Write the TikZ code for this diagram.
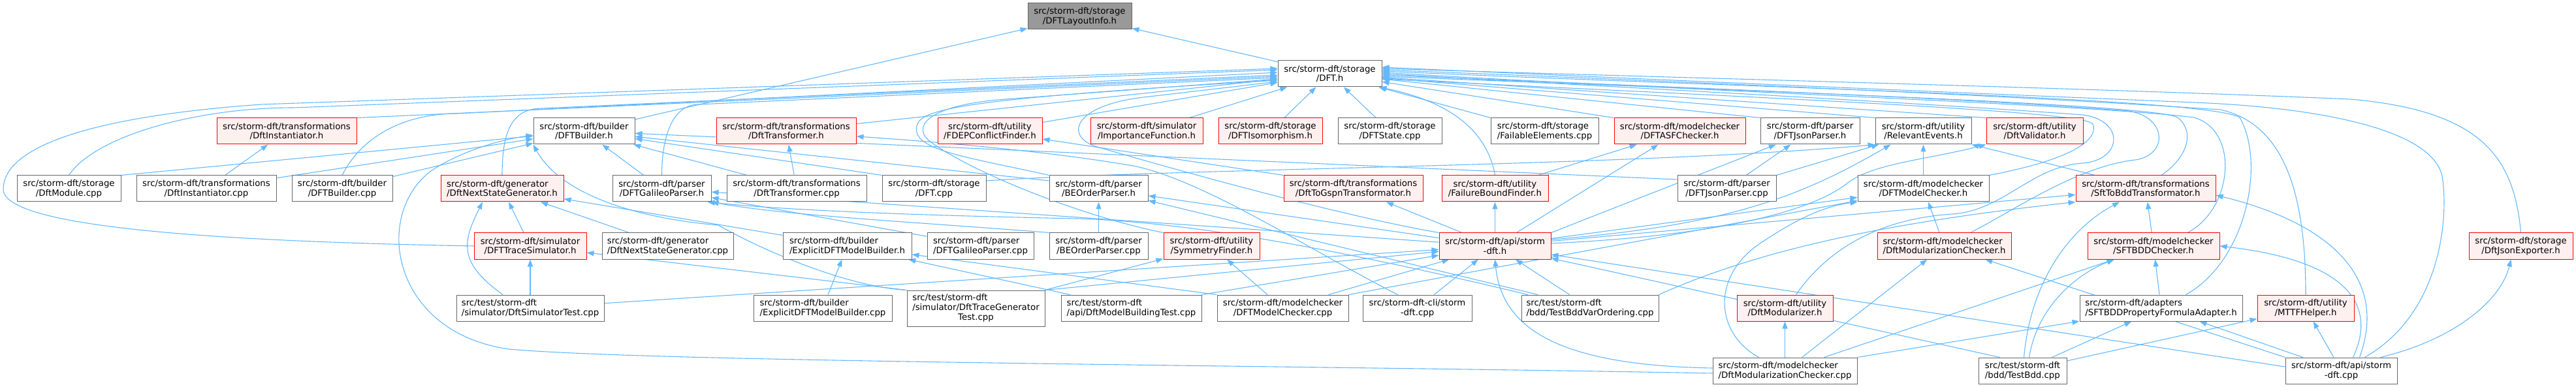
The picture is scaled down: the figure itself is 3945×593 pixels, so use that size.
\documentclass[tikz,border=0pt]{standalone}
\usepackage{fontspec}
\setmainfont{DejaVu Sans}
\usetikzlibrary{arrows.meta,backgrounds}

\definecolor{edgeblue}{HTML}{63B8FF}
\definecolor{boxgray}{HTML}{666666}
\definecolor{hotfill}{HTML}{FFF0F0}
\definecolor{rootfill}{HTML}{999999}

\begin{document}
\begin{tikzpicture}[x=1pt, y=-1pt,
    file/.style={draw=boxgray, fill=white, line width=1pt, rectangle, minimum height=40pt,
      inner sep=0pt, align=center, font=\fontsize{13.3}{14.7}\selectfont},
    hot/.style={file, draw=red, fill=hotfill},
    root/.style={file, fill=rootfill},
    inc/.style={draw=edgeblue, line width=1.1pt, -{Triangle[length=11pt,width=8pt]}}]
    \useasboundingbox (0,0) rectangle (3945,593);

    % top
    \node[root, minimum width=159pt] (layout) at (1653.5,25) {src/storm-dft/storage\\/DFTLayoutInfo.h};
    \node[file, minimum width=159pt] (dft) at (2036.5,113) {src/storm-dft/storage\\/DFT.h};

    % row 2
    \node[hot, minimum width=214pt] (insth) at (439,201) {src/storm-dft/transformations\\/DftInstantiator.h};
    \node[file, minimum width=155pt] (builderh) at (894.5,201) {src/storm-dft/builder\\/DFTBuilder.h};
    \node[hot, minimum width=214pt] (transh) at (1204,201) {src/storm-dft/transformations\\/DftTransformer.h};
    \node[hot, minimum width=160pt] (fdeph) at (1516,201) {src/storm-dft/utility\\/FDEPConflictFinder.h};
    \node[hot, minimum width=172pt] (importh) at (1756,201) {src/storm-dft/simulator\\/ImportanceFunction.h};
    \node[hot, minimum width=159pt] (isoh) at (1945.5,201) {src/storm-dft/storage\\/DFTIsomorphism.h};
    \node[file, minimum width=159pt] (statecpp) at (2128.5,201) {src/storm-dft/storage\\/DFTState.cpp};
    \node[file, minimum width=165pt, align=left] (failcpp) at (2365.5,201) {src/storm-dft/storage\\/FailableElements.cpp};
    \node[hot, minimum width=201pt] (asfh) at (2572.5,201) {src/storm-dft/modelchecker\\/DFTASFChecker.h};
    \node[file, minimum width=152pt] (jsonph) at (2772,201) {src/storm-dft/parser\\/DFTJsonParser.h};
    \node[file, minimum width=147pt] (relevh) at (2945.5,201) {src/storm-dft/utility\\/RelevantEvents.h};
    \node[hot, minimum width=148pt] (validh) at (3116,201) {src/storm-dft/utility\\/DftValidator.h};

    % row 3
    \node[file, minimum width=159pt] (modcpp) at (105.5,289) {src/storm-dft/storage\\/DftModule.cpp};
    \node[file, minimum width=214pt] (instcpp) at (316,289) {src/storm-dft/transformations\\/DftInstantiator.cpp};
    \node[file, minimum width=154pt] (buildercpp) at (524,289) {src/storm-dft/builder\\/DFTBuilder.cpp};
    \node[hot, minimum width=188pt, align=left] (nsgh) at (769,289) {src/storm-dft/generator\\/DftNextStateGenerator.h};
    \node[file, minimum width=151pt] (galh) at (1013.5,289) {src/storm-dft/parser\\/DFTGalileoParser.h};
    \node[file, minimum width=214pt] (transcpp) at (1220,289) {src/storm-dft/transformations\\/DftTransformer.cpp};
    \node[file, minimum width=159pt] (dftcpp) at (1430.5,289) {src/storm-dft/storage\\/DFT.cpp};
    \node[file, minimum width=151pt] (beoh) at (1682.5,289) {src/storm-dft/parser\\/BEOrderParser.h};
    \node[hot, minimum width=213pt] (gspnh) at (2072.5,289) {src/storm-dft/transformations\\/DftToGspnTransformator.h};
    \node[hot, minimum width=163pt] (fbfh) at (2289.5,289) {src/storm-dft/utility\\/FailureBoundFinder.h};
    \node[file, minimum width=151pt] (jsonpcpp) at (2644.5,289) {src/storm-dft/parser\\/DFTJsonParser.cpp};
    \node[file, minimum width=201pt] (mch) at (2945.5,289) {src/storm-dft/modelchecker\\/DFTModelChecker.h};
    \node[hot, minimum width=214pt] (sftbddh) at (3286,289) {src/storm-dft/transformations\\/SftToBddTransformator.h};

    % row 4
    \node[hot, minimum width=172pt] (tsimh) at (812,377) {src/storm-dft/simulator\\/DFTTraceSimulator.h};
    \node[file, minimum width=201pt, align=left] (nsgcpp) at (1022.5,377) {src/storm-dft/generator\\/DftNextStateGenerator.cpp};
    \node[file, minimum width=197pt, align=left] (edmbh) at (1297.5,377) {src/storm-dft/builder\\/ExplicitDFTModelBuilder.h};
    \node[file, minimum width=163pt, align=left] (galcpp) at (1501.5,377) {src/storm-dft/parser\\/DFTGalileoParser.cpp};
    \node[file, minimum width=151pt] (beocpp) at (1682.5,377) {src/storm-dft/parser\\/BEOrderParser.cpp};
    \node[hot, minimum width=147pt] (symh) at (1855.5,377) {src/storm-dft/utility\\/SymmetryFinder.h};
    \node[hot, minimum width=171pt] (apih) at (2289.5,377) {src/storm-dft/api/storm\\-dft.h};
    \node[hot, minimum width=205pt, align=left] (modch) at (2977.5,377) {src/storm-dft/modelchecker\\/DftModularizationChecker.h};
    \node[hot, minimum width=202pt] (sftbddch) at (3298,377) {src/storm-dft/modelchecker\\/SFTBDDChecker.h};
    \node[hot, minimum width=159pt] (jsonexh) at (3860.5,377) {src/storm-dft/storage\\/DftJsonExporter.h};

    % row 5
    \node[file, minimum width=226pt, align=left] (simtestcpp) at (812,472) {src/test/storm-dft\\/simulator/DftSimulatorTest.cpp};
    \node[file, minimum width=212pt, align=left] (edmbcpp) at (1260,472) {src/storm-dft/builder\\/ExplicitDFTModelBuilder.cpp};
    \node[file, minimum width=211pt, minimum height=55pt] (tracetestcpp) at (1494.5,472.5)
      {\begin{tabular}{@{}l@{}}src/test/storm-dft\\/simulator/DftTraceGenerator\\\multicolumn{1}{@{}c@{}}{Test.cpp}\end{tabular}};
    \node[file, minimum width=215pt, align=left] (mbtestcpp) at (1732.5,472) {src/test/storm-dft\\/api/DftModelBuildingTest.cpp};
    \node[file, minimum width=201pt] (mccpp) at (1964.5,472) {src/storm-dft/modelchecker\\/DFTModelChecker.cpp};
    \node[file, minimum width=167pt] (clicpp) at (2170.5,472) {src/storm-dft-cli/storm\\-dft.cpp};
    \node[file, minimum width=210pt, align=left] (bddvarcpp) at (2435,472) {src/test/storm-dft\\/bdd/TestBddVarOrdering.cpp};
    \node[hot, minimum width=147pt] (modzh) at (2733.5,472) {src/storm-dft/utility\\/DftModularizer.h};
    \node[file, minimum width=249pt, align=left] (adapterh) at (3309.5,472) {src/storm-dft/adapters\\/SFTBDDPropertyFormulaAdapter.h};
    \node[hot, minimum width=148pt] (mttfh) at (3531,472) {src/storm-dft/utility\\/MTTFHelper.h};

    % row 6
    \node[file, minimum width=221pt, align=left] (modccpp) at (2733.5,568) {src/storm-dft/modelchecker\\/DftModularizationChecker.cpp};
    \node[file, minimum width=135pt, align=left] (bddcpp) at (3097.5,568) {src/test/storm-dft\\/bdd/TestBdd.cpp};
    \node[file, minimum width=171pt] (apicpp) at (3585.5,568) {src/storm-dft/api/storm\\-dft.cpp};

    \begin{scope}[on background layer]
    % the layout info header
    \draw[inc] (dft) -- (layout);
    \draw[inc] (builderh) -- (layout);

    % straight into DFT.h
    \draw[inc] (insth.north east) -- ([yshift=-4pt]dft.west);
    \draw[inc] (transh) -- (dft);
    \draw[inc] (fdeph) -- (dft);
    \draw[inc] (importh) -- (dft);
    \draw[inc] (isoh) -- (dft);
    \draw[inc] (statecpp) -- (dft);
    \draw[inc] (failcpp.north west) -- (dft);
    \draw[inc] (asfh.north west) -- (dft);
    \draw[inc] (jsonph.north west) -- (dft);
    \draw[inc] (relevh.north west) -- (dft);
    \draw[inc] (validh.north west) -- (dft);

    % into DFT.h from the left
    \draw[inc] (modcpp.north) .. controls +(40,-60) and +(-150,0) .. (450,165) -- ([yshift=6pt]dft.west);
    \draw[inc] (buildercpp.north) .. controls +(30,-60) and +(-80,0) .. (700,174) -- ([yshift=2pt]dft.west);
    \draw[inc] (nsgh.north) .. controls +(0,-60) and +(-50,0) .. (830,166) -- ([yshift=-2pt]dft.west);
    \draw[inc] (galh.north) .. controls +(0,-60) and +(-40,0) .. (1070,160) -- ([yshift=-6pt]dft.west);
    \draw[inc] (tsimh.west) .. controls (350,370) and (5,350) .. (5,290) .. controls (5,230) and (120,180) .. (400,160) -- ([yshift=8pt]dft.west);
    \draw[inc] (beoh.north west) .. controls (1480,240) and (1390,230) .. (1405,190) .. controls (1415,165) and (1500,150) .. ([yshift=-10pt]dft.west);
    \draw[inc] (symh.north west) .. controls (1650,330) and (1480,260) .. (1422,215) .. controls (1395,190) and (1430,160) .. (1540,152) -- ([yshift=-8pt]dft.west);
    \draw[inc] (apih.north west) .. controls (2050,330) and (1800,260) .. (1680,225) .. controls (1630,210) and (1640,160) .. (1760,148) -- ([yshift=-12pt]dft.west);

    % into DFT.h from the right
    \draw[inc] (fbfh.north) .. controls (2280,215) and (2240,160) .. ([xshift=-4pt]dft.south east);
    \draw[inc] (mch.north east) .. controls (3170,245) and (3215,215) .. (3205,190) .. controls (3195,170) and (2700,150) .. ([yshift=-8pt]dft.east);
    \draw[inc] ([xshift=24pt]sftbddh.north) .. controls (3345,245) and (3365,205) .. (3335,180) .. controls (3300,160) and (2700,140) .. ([yshift=-4pt]dft.east);
    \draw[inc] ([xshift=40pt]modch.north) .. controls (3080,325) and (3180,255) .. (3270,245) .. controls (3320,238) and (3320,180) .. (3260,170) .. controls (3000,150) and (2600,135) .. ([yshift=-2pt]dft.east);
    \draw[inc] ([xshift=17pt]modzh.north) .. controls (2800,380) and (2880,335) .. (2990,328) .. controls (3070,322) and (3110,255) .. (3190,250) .. controls (3250,245) and (3255,185) .. (3190,176) .. controls (2900,155) and (2500,135) .. (dft.east);
    \draw[inc] ([xshift=52pt]sftbddch.north) .. controls (3420,320) and (3430,200) .. (3360,180) .. controls (3200,160) and (2600,140) .. ([yshift=2pt]dft.east);
    \draw[inc] ([xshift=38pt]adapterh.north) .. controls (3440,400) and (3470,250) .. (3430,180) .. controls (3380,150) and (2700,135) .. ([yshift=4pt]dft.east);
    \draw[inc] (mttfh.north) .. controls (3531,300) and (3500,190) .. (3400,168) .. controls (3100,148) and (2700,130) .. ([yshift=6pt]dft.east);
    \draw[inc] (jsonexh.north) .. controls (3850,240) and (3800,170) .. (3600,152) .. controls (3200,135) and (2600,120) .. ([yshift=8pt]dft.east);
    \draw[inc] ([xshift=36pt]apicpp.north) .. controls (3740,480) and (3750,330) .. (3740,270) .. controls (3725,200) and (3560,165) .. (3360,157) .. controls (3000,142) and (2600,125) .. ([yshift=10pt]dft.east);

    % DFTBuilder.h
    \draw[inc] (modcpp.north east) -- (builderh);
    \draw[inc] (instcpp) -- (builderh);
    \draw[inc] (buildercpp) -- (builderh);
    \draw[inc] (galh) -- (builderh);
    \draw[inc] (transcpp) -- (builderh);
    \draw[inc] (dftcpp.north west) -- (builderh);
    \draw[inc] ([yshift=12pt]beoh.west) -- (builderh);
    \draw[inc] ([yshift=14pt]jsonpcpp.west) -- (builderh);
    \draw[inc] (tracetestcpp.north west) .. controls (1300,440) and (1170,385) .. (1100,345) .. controls (980,335) and (860,300) .. (builderh.south west);
    \draw[inc] ([yshift=-4pt]modccpp.west) .. controls (2000,560) and (1000,555) .. (780,535) .. controls (600,510) and (570,330) .. (660,262) .. controls (700,235) and (760,215) .. ([yshift=-6pt]builderh.west);

    % transformations
    \draw[inc] (instcpp) -- (insth);
    \draw[inc] (transcpp) -- (transh);
    \draw[inc] ([xshift=-30pt]clicpp.north) .. controls (2000,380) and (1850,280) .. (1740,255) .. controls (1600,230) and (1400,215) .. ([yshift=-8pt]transh.east);

    % generator and simulator
    \draw[inc] (tsimh) -- (nsgh);
    \draw[inc] (nsgcpp) -- (nsgh);
    \draw[inc] (edmbh) -- (nsgh);
    \draw[inc] ([xshift=-42pt]simtestcpp.north) .. controls +(-70,-50) and +(-30,60) .. ([xshift=-30pt]nsgh.south);
    \draw[inc] (simtestcpp) -- (tsimh);
    \draw[inc] (tracetestcpp.north west) -- (tsimh);

    % model builder and symmetries
    \draw[inc] (edmbcpp) -- (edmbh);
    \draw[inc] (mbtestcpp) -- (edmbh);
    \draw[inc] (mccpp.north west) -- (edmbh);
    \draw[inc] (tracetestcpp) -- (symh);
    \draw[inc] (mccpp) -- (symh);

    % parsers
    \draw[inc] (galcpp) -- (galh);
    \draw[inc] (beocpp) -- (beoh);
    \draw[inc] (beocpp.north west) .. controls (1400,340) and (1200,330) .. (galh.south east);
    \draw[inc] ([xshift=-95pt]bddvarcpp.north) .. controls (2000,370) and (1800,340) .. (1650,335) .. controls (1400,330) and (1200,322) .. ([xshift=-6pt]galh.south east);
    \draw[inc] ([xshift=-80pt]bddvarcpp.north) -- (beoh);
    \draw[inc] (jsonpcpp) -- (jsonph);
    \draw[inc] (jsonpcpp.north east) -- (relevh);
    \draw[inc] ([yshift=12pt]dftcpp.east) .. controls (1800,258) and (2500,255) .. (relevh.south west);

    % storm-dft.h
    \draw[inc] (apih) -- (gspnh);
    \draw[inc] (apih) -- (fbfh);
    \draw[inc] (apih) -- (asfh);
    \draw[inc] (apih.north east) -- (jsonph);
    \draw[inc] ([yshift=10pt]apih.east) .. controls (2650,345) and (2760,300) .. ([xshift=-50pt]relevh.south);
    \draw[inc] ([yshift=4pt]apih.east) .. controls (2650,360) and (2780,320) .. (2830,280) .. controls (2870,250) and (2950,245) .. (validh.south west);
    \draw[inc] (apih) -- (mch);
    \draw[inc] (apih) -- (sftbddh);
    \draw[inc] (apih) -- (beoh);
    \draw[inc] (apih) -- (galh);
    \draw[inc] (fbfh) -- (asfh);
    \draw[inc] (gspnh.north west) -- (fdeph);

    \draw[inc] (simtestcpp) -- (apih);
    \draw[inc] (tracetestcpp.north east) -- (apih);
    \draw[inc] (mbtestcpp.north east) -- (apih);
    \draw[inc] (mccpp) -- (apih);
    \draw[inc] (clicpp) -- (apih);
    \draw[inc] (bddvarcpp) -- (apih);
    \draw[inc] ([yshift=4pt]modccpp.west) .. controls (2400,560) and (2300,510) .. (apih.south);
    \draw[inc] ([xshift=-35pt]bddcpp.north) -- (apih);
    \draw[inc] ([yshift=6pt]apicpp.west) -- (apih);

    % model checkers
    \draw[inc] (mccpp.north east) -- (mch);
    \draw[inc] (mch) -- (relevh);
    \draw[inc] (modch) -- (mch);
    \draw[inc] ([xshift=-40pt]modccpp.north) .. controls (2625,510) and (2620,420) .. (2700,370) .. controls (2760,330) and (2800,315) .. (mch.south west);
    \draw[inc] (modccpp) -- (modzh);
    \draw[inc] (modccpp) -- (modch);
    \draw[inc] ([xshift=60pt]modccpp.north) -- (sftbddch);
    \draw[inc] (modccpp.north east) -- (adapterh);
    \draw[inc] (apicpp.north west) -- (modch);

    % BDD
    \draw[inc] (sftbddch) -- (sftbddh);
    \draw[inc] (adapterh) -- (sftbddch);
    \draw[inc] ([xshift=30pt]sftbddh.north west) -- (relevh.south east);
    \draw[inc] (bddvarcpp.north east) .. controls (2700,380) and (2900,340) .. (sftbddh.south west);
    \draw[inc] ([xshift=2pt]bddcpp.north) .. controls (3110,430) and (3170,350) .. ([xshift=-40pt]sftbddh.south);
    \draw[inc] ([xshift=10pt]bddcpp.north) .. controls (3120,470) and (3180,420) .. ([xshift=-60pt]sftbddch.south);
    \draw[inc] (bddcpp) -- (adapterh);
    \draw[inc] (bddcpp) -- (mttfh);

    % storm-dft.cpp
    \draw[inc] ([xshift=28pt]apicpp.north) .. controls (3660,420) and (3560,340) .. ([yshift=-10pt]sftbddh.east);
    \draw[inc] ([xshift=18pt]apicpp.north) .. controls (3640,470) and (3600,400) .. (sftbddch.east);
    \draw[inc] (apicpp) -- (adapterh);
    \draw[inc] (apicpp) -- (mttfh);
    \draw[inc] ([xshift=60pt]apicpp.north) .. controls (3760,520) and (3830,460) .. ([xshift=-15pt]jsonexh.south);
    \end{scope}
\end{tikzpicture}
\end{document}
